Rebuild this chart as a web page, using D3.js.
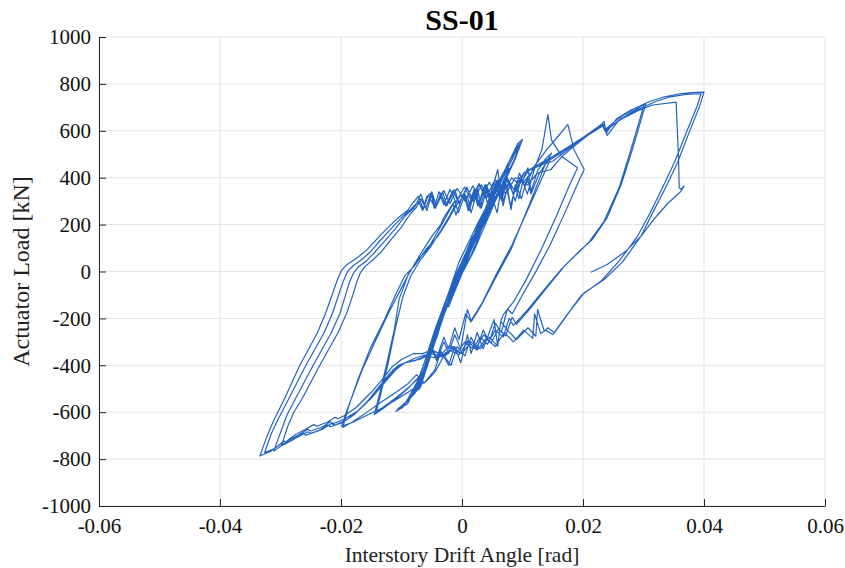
<!doctype html>
<html>
<head>
<meta charset="utf-8">
<script src="https://cdn.jsdelivr.net/npm/d3@7"></script>
<style>
  body { margin: 0; background: #fff; }
  svg { display: block; font-family: "Liberation Serif", "Times New Roman", serif; }
</style>
</head>
<body>
<svg width="845" height="568"></svg>
<script>
// drift [rad], load [kN], in loading order
var cycleSmall = [[0,0],[0.0015,100],[0.0028,180],[0.0018,150],[0,40],[-0.0015,-60],[-0.003,-150],[-0.0022,-150],[-0.0008,-50],[0.0008,55],[0.0026,170],[0.0016,140],[-0.0002,30],[-0.0028,-140],[-0.002,-135],[0,-10],
  [0.002,90],[0.004,240],[0.0055,320],[0.0045,300],[0.0025,190],[0,20],[-0.002,-110],[-0.0042,-245],[-0.0052,-310],[-0.0045,-300],[-0.002,-100],[0.001,60],[0.0035,220],[0.0053,312],[0.0042,290],[0.0015,110],[-0.0015,-90],[-0.0038,-230],[-0.005,-300],[-0.0042,-285],[-0.0018,-80],[0,0]];

var cycle0075 = [[0.002,90],[0.0045,240],[0.006,330],[0.0065,340],[0.0078,440],[0.0068,420],[0.004,270],[0.001,80],[-0.002,-120],[-0.0045,-290],[-0.006,-400],[-0.0078,-510],[-0.007,-500],[-0.005,-330],[-0.002,-100],
  [0.001,60],[0.004,240],[0.0062,350],[0.0076,430],[0.0066,410],[0.0035,240],[0.0005,50],[-0.0025,-150],[-0.005,-330],[-0.0064,-430],[-0.0076,-500],[-0.0068,-490],[-0.0045,-300],[-0.0015,-60]];

var cycle010 = [[0.0015,70],[0.004,230],[0.0065,360],[0.0085,470],[0.01,563],[0.0092,545],[0.0065,400],[0.0035,240],[0.0005,55],[-0.0025,-150],[-0.005,-340],[-0.0068,-473],[-0.009,-550],[-0.0109,-596],[-0.0098,-580],[-0.0075,-480],[-0.005,-300],[-0.002,-80],
  [0.001,70],[0.004,220],[0.007,380],[0.0088,480],[0.0098,550],[0.009,530],[0.006,370],[0.003,210],[0,40],[-0.003,-180],[-0.0055,-380],[-0.0075,-500],[-0.0092,-560],[-0.0106,-585],[-0.0095,-570],[-0.007,-450],[-0.0045,-250],[-0.0015,-40],
  [0.0015,110],[0.0045,280],[0.0068,400],[0.0087,500],[0.0096,540],[0.0086,510],[0.0058,360],[0.0028,200],[-0.0002,20],[-0.0032,-200],[-0.0058,-410],[-0.0078,-520],[-0.0098,-575],[-0.009,-565],[-0.0065,-430],[-0.0035,-190],[-0.0005,40],
  [0.0025,200],[0.0055,350],[0.0078,470],[0.0094,535],[0.0084,500],[0.005,320],[0.002,140],[-0.001,-40],[-0.004,-260],[-0.0062,-440],[-0.0082,-530],[-0.0072,-500],[-0.0045,-280],[-0.0015,-40]];

var cycle015 = [[0.001,100],[0.003,205],[0.0045,270],[0.0052,300],[0.0058,250],[0.0064,345],[0.0068,280],[0.0075,360],[0.0081,264],[0.0088,370],[0.0094,310],[0.0102,400],[0.0109,442],[0.0114,340],[0.0125,430],[0.0138,480],[0.0148,505],
  [0.0138,460],[0.0112,290],[0.0081,94],[0.0055,-30],[0.0031,-148],[0.0015,-215],[0.0006,-180],[-0.0005,-290],[-0.0012,-240],[-0.0022,-330],[-0.003,-280],[-0.0042,-370],[-0.005,-320],[-0.0062,-420],[-0.0075,-460],[-0.009,-500],[-0.0108,-540],[-0.0128,-580],[-0.0145,-610],
  [-0.0138,-540],[-0.0125,-400],[-0.0112,-250],[-0.0104,-119],[-0.009,-20],[-0.0075,45],[-0.0057,94],[-0.004,170],[-0.0025,240],[-0.0012,300],[-0.0006,250],[0.0005,330],[0.001,260],[0.002,345],[0.0026,280],[0.0036,355],[0.0042,290],[0.0052,370],[0.0059,435],[0.0066,300],[0.0072,380],[0.008,280],[0.009,370],[0.0098,310],[0.0108,400],[0.0114,330],[0.0128,420],[0.014,465],[0.0147,485],
  [0.0136,420],[0.011,270],[0.0082,110],[0.0057,-10],[0.0033,-135],[0.0015,-210],[0.0009,-162],[-0.0002,-330],[-0.0012,-270],[-0.0022,-350],[-0.003,-300],[-0.0042,-380],[-0.005,-330],[-0.0062,-430],[-0.008,-475],[-0.01,-520],[-0.012,-560],[-0.0142,-600],
  [-0.0135,-530],[-0.0122,-390],[-0.011,-240],[-0.0098,-110],[-0.0085,-20],[-0.007,45],[-0.0052,105],[-0.0035,175],[-0.002,240],[-0.001,290]];

var cycle020 = [[-0.0004,320],[0.0009,321],[0.0015,250],[0.0026,350],[0.0032,270],[0.0042,360],[0.005,290],[0.006,390],[0.0068,300],[0.0078,380],[0.0088,300],[0.0098,400],[0.0108,330],[0.012,440],[0.0132,520],[0.0142,669],[0.0148,560],[0.0165,490],[0.0191,442],
  [0.0178,370],[0.0155,230],[0.0131,94],[0.0105,-40],[0.0085,-130],[0.0068,-185],[0.0064,-212],[0.0059,-318],[0.0053,-205],[0.0045,-260],[0.0035,-330],[0.0025,-260],[0.0015,-350],[0.0009,-270],[-0.0002,-389],[-0.0012,-320],[-0.0022,-400],[-0.0035,-340],[-0.0045,-420],[-0.0062,-475],[-0.0075,-440],[-0.009,-480],[-0.0112,-520],[-0.0135,-560],[-0.016,-605],[-0.018,-640],[-0.0197,-665],
  [-0.0188,-580],[-0.0172,-460],[-0.0152,-330],[-0.0128,-205],[-0.011,-100],[-0.0095,-20],[-0.0079,23],[-0.0058,100],[-0.004,150],[-0.0025,210],[-0.001,280],[0.0005,330],[0.0012,260],[0.0022,350],[0.003,270],[0.004,370],[0.0048,290],[0.0058,390],[0.0066,310],[0.0075,400],[0.0085,330],[0.0095,420],[0.0104,360],[0.012,450],[0.014,520],[0.016,580],[0.0175,627],[0.0185,520],[0.0202,435],
  [0.0192,380],[0.017,250],[0.0145,110],[0.012,-10],[0.01,-100],[0.0083,-180],[0.0075,-160],[0.0065,-260],[0.0055,-220],[0.0045,-300],[0.0035,-250],[0.0025,-330],[0.0015,-280],[0.0005,-360],[-0.0008,-320],[-0.0018,-400],[-0.003,-360],[-0.0045,-430],[-0.006,-470],[-0.008,-500],[-0.0105,-540],[-0.013,-580],[-0.0155,-610],[-0.0178,-640],[-0.0199,-660],
  [-0.019,-590],[-0.0165,-420],[-0.0142,-290],[-0.0122,-180],[-0.0104,-90],[-0.0088,-10],[-0.0072,60],[-0.005,150],[-0.0035,200]];

var cycle030a = [[-0.003,230],[-0.0015,290],[-0.001,240],[0.0002,330],[0.001,270],[0.002,350],[0.0028,280],[0.0038,370],[0.0046,300],[0.0056,380],[0.0064,310],[0.0074,390],[0.0085,330],[0.0095,400],[0.0108,370],[0.0125,420],[0.0147,435],[0.0165,490],[0.0185,534],[0.0205,575],[0.0228,620],[0.0235,640],[0.0238,590],[0.0255,650],[0.028,690],[0.0301,712],
  [0.0294,650],[0.0278,510],[0.026,360],[0.0235,215],[0.021,125],[0.0192,80],[0.0164,9],[0.0135,-80],[0.0108,-165],[0.0085,-230],[0.0078,-200],[0.0068,-280],[0.0055,-250],[0.0042,-310],[0.003,-280],[0.0018,-330],[0.0005,-300],[-0.0008,-345],[-0.002,-315],[-0.0035,-355],[-0.005,-335],[-0.0065,-350],[-0.008,-350],
  [-0.01,-375],[-0.0115,-405],[-0.013,-455],[-0.015,-515],[-0.0175,-580],[-0.0195,-615],[-0.0205,-628],[-0.021,-622],[-0.0222,-642],[-0.024,-660],[-0.0245,-653],[-0.026,-675],[-0.0275,-695],[-0.0288,-720],[-0.0299,-745],
  [-0.0295,-715],[-0.0288,-660],[-0.0278,-600],[-0.0265,-546],[-0.0235,-400],[-0.0205,-261],[-0.0191,-180],[-0.0181,-105],[-0.0174,-45],[-0.0168,-5],[-0.016,22],[-0.0148,48],[-0.0134,82],[-0.0116,140],[-0.0101,186],[-0.0087,240],[-0.0075,275]];

var cycle030b = [[-0.0068,310],[-0.0058,260],[-0.005,330],[-0.0044,270],[-0.0032,340],[-0.0025,280],[-0.0012,350],[-0.0005,290],[0.0008,360],[0.0018,300],[0.0028,370],[0.004,310],[0.0052,380],[0.0062,320],[0.0075,395],[0.0088,340],[0.0103,422],[0.0125,450],[0.015,470],[0.0175,520],[0.02,570],[0.0225,612],[0.0235,628],[0.024,580],[0.0258,640],[0.028,680],[0.0304,716],
  [0.0297,655],[0.0281,515],[0.0263,370],[0.024,230],[0.0215,135],[0.0197,94],[0.017,25],[0.014,-70],[0.0112,-160],[0.009,-225],[0.0083,-195],[0.0072,-275],[0.006,-245],[0.0048,-305],[0.0036,-270],[0.0022,-330],[0.001,-295],[-0.0003,-350],[-0.0015,-320],[-0.003,-360],[-0.0045,-340],[-0.006,-355],[-0.0078,-370],[-0.0095,-390],
  [-0.011,-420],[-0.0125,-465],[-0.0148,-535],[-0.0172,-595],[-0.0195,-630],[-0.0212,-648],[-0.0218,-641],[-0.023,-662],[-0.025,-680],[-0.0255,-673],[-0.027,-697],[-0.0288,-722],[-0.03,-745],[-0.0311,-766],
  [-0.0307,-735],[-0.0299,-680],[-0.0289,-610],[-0.0276,-546],[-0.0246,-400],[-0.0216,-261],[-0.0202,-180],[-0.0193,-105],[-0.0186,-45],[-0.0179,-5],[-0.0171,20],[-0.0158,45],[-0.0145,80],[-0.0126,135],[-0.0109,186],[-0.0093,240],[-0.008,270]];

var cycle040a = [[-0.0072,300],[-0.0065,260],[-0.0058,320],[-0.0051,335],[-0.0046,270],[-0.0038,340],[-0.003,285],[-0.002,350],[-0.001,295],[0.0004,360],[0.0015,305],[0.0028,375],[0.004,320],[0.0055,390],[0.0068,335],[0.0082,400],[0.0095,370],[0.011,430],[0.0135,460],[0.016,500],[0.0185,545],[0.021,590],[0.0232,630],[0.0236,605],[0.026,655],[0.0285,695],[0.031,725],[0.0335,745],[0.036,758],[0.038,763],[0.04,765],
  [0.0392,700],[0.0375,590],[0.0356,463],[0.0335,350],[0.0315,250],[0.0296,151],[0.0265,40],[0.0235,-34],[0.0202,-91],[0.0178,-170],[0.0153,-261],[0.0142,-240],[0.0136,-255],[0.0125,-162],[0.0122,-276],[0.0109,-240],[0.009,-290],[0.0075,-250],[0.0064,-212],[0.0059,-318],[0.0045,-280],[0.003,-330],[0.0015,-300],[0,-350],[-0.0015,-330],[-0.003,-365],[-0.005,-350],[-0.007,-375],[-0.009,-385],
  [-0.0105,-400],[-0.0118,-430],[-0.0135,-485],[-0.0155,-550],[-0.0178,-610],[-0.0198,-645],[-0.0217,-662],[-0.0222,-655],[-0.0238,-680],[-0.0258,-698],[-0.0262,-690],[-0.028,-718],[-0.0294,-738],[-0.0298,-731],[-0.0315,-765],[-0.0334,-787],
  [-0.0329,-750],[-0.0322,-700],[-0.0312,-640],[-0.0294,-546],[-0.0268,-400],[-0.0239,-261],[-0.0225,-175],[-0.0214,-95],[-0.0206,-35],[-0.0199,5],[-0.019,30],[-0.0175,55],[-0.0158,90],[-0.014,140],[-0.0123,186],[-0.0105,230],[-0.009,260]];

var cycle040b = [[-0.0082,290],[-0.0072,320],[-0.0064,265],[-0.0056,325],[-0.0044,270],[-0.0035,335],[-0.0027,280],[-0.0015,345],[-0.0005,290],[0.0008,355],[0.002,300],[0.0032,370],[0.0045,315],[0.006,385],[0.0072,330],[0.0088,400],[0.0103,385],[0.012,440],[0.0145,480],[0.017,520],[0.0195,560],[0.022,600],[0.0233,622],[0.0237,598],[0.0262,650],[0.029,690],[0.032,725],[0.0345,745],[0.037,755],[0.0395,758],
  [0.0388,700],[0.0372,600],[0.0352,470],[0.033,350],[0.031,245],[0.029,150],[0.026,45],[0.023,-40],[0.0198,-100],[0.0175,-180],[0.015,-269],[0.0138,-250],[0.013,-265],[0.012,-180],[0.0117,-285],[0.0102,-250],[0.0085,-300],[0.007,-260],[0.0055,-320],[0.004,-285],[0.0025,-335],[0.001,-300],[-0.0005,-355],[-0.002,-335],[-0.004,-370],[-0.006,-360],[-0.0078,-380],[-0.0095,-390],
  [-0.011,-415],[-0.0125,-460],[-0.0145,-522],[-0.017,-590],[-0.0192,-635],[-0.021,-655],[-0.0216,-648],[-0.023,-672],[-0.025,-690],[-0.0255,-683],[-0.0272,-707],[-0.029,-730],[-0.0294,-723],[-0.031,-755],[-0.0326,-772],
  [-0.0322,-740],[-0.0315,-690],[-0.0304,-630],[-0.0287,-546],[-0.0258,-400],[-0.0228,-261],[-0.0214,-178],[-0.0204,-100],[-0.0196,-40],[-0.0189,0],[-0.018,25],[-0.0166,50],[-0.0151,85],[-0.0136,130],[-0.0116,186],[-0.0098,235],[-0.0085,265],
  [-0.0075,290],[-0.0068,330],[-0.006,270],[-0.005,340],[-0.0042,280],[-0.003,345],[-0.002,290],[-0.0008,355],[0.0005,300],[0.0018,365],[0.003,310],[0.0045,380],[0.0058,325],[0.0072,395],[0.0086,350],[0.0102,420],[0.0125,455],[0.015,490],[0.0178,535],[0.0205,580],[0.0232,625],[0.0236,600],[0.026,645],[0.029,685],[0.0315,710],[0.0354,722]];

var cycleFinal = [[0.0356,600],[0.0358,480],[0.0359,357],[0.0362,350],[0.0367,364],[0.0362,342],[0.034,290],[0.0318,225],[0.0296,151],[0.027,85],[0.024,30],[0.0213,-3]];

var xTicks = [-0.06, -0.04, -0.02, 0, 0.02, 0.04, 0.06];
var xTickLabels = ["-0.06", "-0.04", "-0.02", "0", "0.02", "0.04", "0.06"];
var yTicks = [-1000, -800, -600, -400, -200, 0, 200, 400, 600, 800, 1000];
var yTickLabels = ["-1000", "-800", "-600", "-400", "-200", "0", "200", "400", "600", "800", "1000"];

var svg = d3.select("svg");
var plotLeft = 99, plotRight = 825, plotTop = 37, plotBottom = 506;

var x = d3.scaleLinear().domain([-0.06, 0.06]).range([plotLeft, plotRight]);
var y = d3.scaleLinear().domain([-1000, 1000]).range([plotBottom, plotTop]);

// grid
svg.append("g").selectAll("line").data(xTicks).enter().append("line")
  .attr("x1", d => x(d)).attr("x2", d => x(d))
  .attr("y1", plotTop).attr("y2", plotBottom)
  .attr("stroke", "#e3e3e3").attr("stroke-width", 1);
svg.append("g").selectAll("line").data(yTicks).enter().append("line")
  .attr("x1", plotLeft).attr("x2", plotRight)
  .attr("y1", d => y(d)).attr("y2", d => y(d))
  .attr("stroke", "#e3e3e3").attr("stroke-width", 1);

// hysteresis curve
var allPoints = [].concat(cycleSmall, cycle0075, cycle010, cycle015, cycle020,
  cycle030a, cycle030b, cycle040a, cycle040b, cycleFinal);

var line = d3.line().x(d => x(d[0])).y(d => y(d[1]));
svg.append("path")
  .datum(allPoints)
  .attr("d", line)
  .attr("fill", "none")
  .attr("stroke", "#2262c0")
  .attr("stroke-width", 1.2)
  .attr("stroke-linejoin", "round");

// axes (ticks point inward, MATLAB style)
var xAxis = d3.axisBottom(x).tickValues(xTicks)
  .tickFormat((d, i) => xTickLabels[i]).tickSizeInner(-7).tickSizeOuter(0).tickPadding(12);
var yAxis = d3.axisLeft(y).tickValues(yTicks)
  .tickFormat((d, i) => yTickLabels[i]).tickSizeInner(-7).tickSizeOuter(0).tickPadding(8);

var gx = svg.append("g").attr("transform", "translate(0," + plotBottom + ")").call(xAxis);
var gy = svg.append("g").attr("transform", "translate(" + plotLeft + ",0)").call(yAxis);
[gx, gy].forEach(function(g) {
  g.select(".domain").attr("stroke", "#262626");
  g.selectAll(".tick line").attr("stroke", "#262626");
  g.selectAll("text").attr("fill", "#111").attr("font-size", 21)
    .attr("font-family", "Liberation Serif, Times New Roman, serif");
});

svg.append("text")
  .attr("x", (plotLeft + plotRight) / 2).attr("y", 30)
  .attr("text-anchor", "middle")
  .attr("font-size", 30).attr("font-weight", "bold")
  .text("SS-01");

svg.append("text")
  .attr("x", (plotLeft + plotRight) / 2).attr("y", 562)
  .attr("text-anchor", "middle")
  .attr("font-size", 21.5).attr("fill", "#222")
  .text("Interstory Drift Angle [rad]");

svg.append("text")
  .attr("transform", "translate(29," + ((plotTop + plotBottom) / 2) + ") rotate(-90)")
  .attr("text-anchor", "middle")
  .attr("font-size", 24).attr("fill", "#222")
  .text("Actuator Load [kN]");
</script>
</body>
</html>
